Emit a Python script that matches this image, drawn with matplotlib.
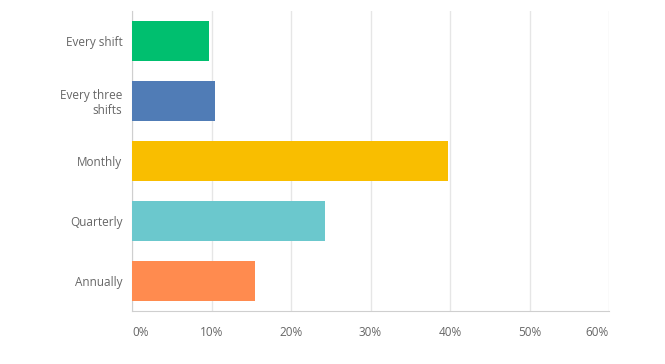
import matplotlib
matplotlib.use('Agg')
import matplotlib.pyplot as plt

# answer shares
categories = ['Every shift', 'Every three\nshifts', 'Monthly', 'Quarterly', 'Annually']
values = [9.7, 10.45, 39.75, 24.3, 15.45]
colors = ['#00bf6f', '#507cb6', '#f9be00', '#6bc8cd', '#ff8b4f']
ticks = [0, 10, 20, 30, 40, 50, 60]

plt.rcParams['font.family'] = ['Open Sans', 'DejaVu Sans']

fig = plt.figure(figsize=(6.65, 3.64), dpi=100)
ax = fig.add_axes([132/665, 1 - 311/364, (609 - 132)/665, 300/364])

ypos = list(range(len(categories)))
ax.barh(ypos, values, height=0.667, color=colors, zorder=3)

ax.set_xlim(0, 60)
ax.set_ylim(len(categories) - 0.5, -0.5)
ax.set_xticks(ticks)
ax.set_xticklabels([f'{t}%' for t in ticks])
ax.set_yticks(ypos)
ax.set_yticklabels(categories, ha='right', multialignment='right')

# end labels sit inside the axis like the original
xl = ax.get_xticklabels()
xl[0].set_ha('left')
xl[-1].set_ha('right')

ax.grid(axis='x', color='#e6e6e6', linewidth=1, zorder=0)
for s in ['top', 'right']:
    ax.spines[s].set_visible(False)
ax.spines['bottom'].set_color('#cfcfcf')
ax.spines['left'].set_color('#cfcfcf')
ax.tick_params(axis='both', length=0, colors='#666666', labelsize=8.5)
ax.tick_params(axis='x', pad=11)
ax.tick_params(axis='y', pad=7)

fig.savefig('out.png', dpi=100)
